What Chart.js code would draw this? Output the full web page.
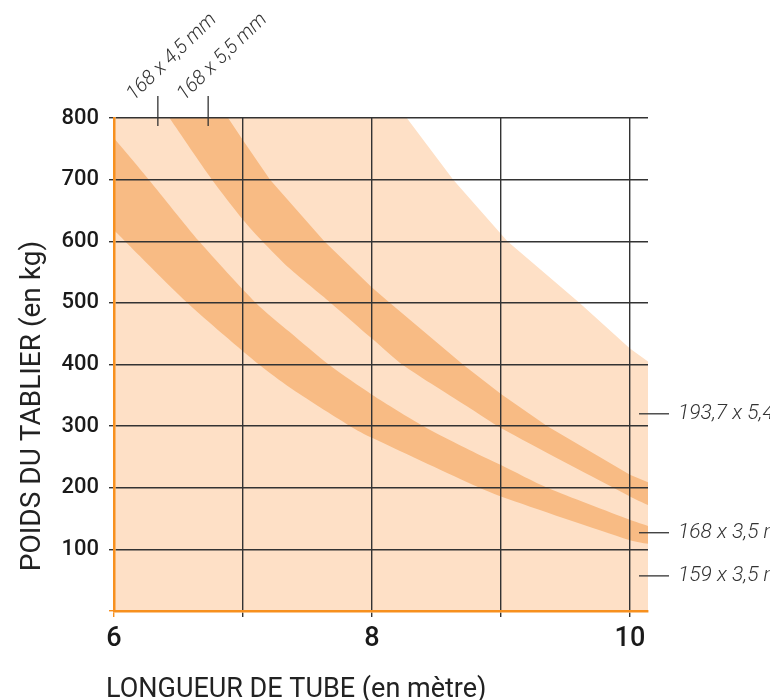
<!DOCTYPE html>
<html lang="fr">
<head>
    <meta charset="UTF-8">
    <title>Poids du tablier / longueur de tube</title>
    <script src="https://cdn.jsdelivr.net/npm/chart.js"></script>
    <style>
        body { margin: 0; background: #fff; }
        .chart-box { width: 770px; height: 700px; }
    </style>
</head>
<body>
    <div class="chart-box">
        <canvas id="tubeChart"></canvas>
    </div>

    <script>
        // limites des zones (x = longueur en m, y = poids en kg)
        const zoneTopX = [6.0, 8.27, 8.63, 9.05, 9.61, 10.0, 10.14];
        const zoneTopY = [800, 800, 700, 600, 500, 426, 405];

        const band2TopX = [6.43, 6.885, 7.0, 7.21, 7.63, 8.0, 8.14, 8.71, 9.0, 9.36, 10.0, 10.14];
        const band2TopY = [800, 800, 764, 700, 600, 525, 500, 399, 352, 300, 221, 209];
        const band2BotX = [6.43, 6.76, 7.0, 7.15, 7.36, 7.68, 8.0, 8.24, 8.76, 9.0, 10.0, 10.14];
        const band2BotY = [800, 700, 635, 600, 556, 500, 442, 399, 329, 297, 186, 172];

        const band1TopX = [6.0, 6.27, 6.66, 7.1, 7.36, 7.67, 8.0, 8.4, 8.76, 9.0, 9.36, 10.0, 10.14];
        const band1TopY = [767, 700, 600, 500, 453, 399, 351, 300, 261, 237, 200, 148, 138];
        const band1BotX = [6.0, 6.57, 7.13, 7.36, 7.83, 8.0, 8.76, 9.0, 10.0, 10.14];
        const band1BotY = [618, 500, 399, 363, 300, 281, 207, 186, 115, 109];

        const xTickLabels = [6, 8, 10];
        const sideLabels = ['193,7 x 5,4 mm', '168 x 3,5 mm', '159 x 3,5 mm'];
        const sideLabelAt = [320, 127, 57];
        const topLabels = ['168 x 4,5 mm', '168 x 5,5 mm'];
        const topLabelAt = [6.34, 6.73];

        const FONT = 'Roboto, "Liberation Sans", sans-serif';
        const ORANGE = '#f7901e';
        const LIGHT = '#fee0c6';
        const DARK = '#f8bb84';
        const GRID = '#333';

        const pts = (xs, ys) => xs.map((x, i) => ({ x: x, y: ys[i] }));

        const edge = (data, fill, color, order, tension) => ({
            data: data,
            fill: fill,
            backgroundColor: color,
            borderColor: 'rgba(0,0,0,0)',
            borderWidth: 1,
            pointRadius: 0,
            tension: tension,
            order: order
        });

        const labelsPlugin = {
            id: 'labels',
            afterDraw(chart) {
                const { ctx, chartArea: a, scales: { x, y } } = chart;
                ctx.save();
                ctx.fillStyle = '#222';

                ctx.font = '27px ' + FONT;
                ctx.textAlign = 'left';
                ctx.textBaseline = 'alphabetic';
                ctx.fillText('LONGUEUR DE TUBE (en mètre)', a.left - 8, 697);

                ctx.save();
                ctx.font = '28px ' + FONT;
                ctx.translate(40, 406);
                ctx.rotate(-Math.PI / 2);
                ctx.textAlign = 'center';
                ctx.fillText('POIDS DU TABLIER (en kg)', 0, 0);
                ctx.restore();

                ctx.strokeStyle = GRID;
                ctx.lineWidth = 1.3;
                ctx.fillStyle = '#333';
                ctx.font = 'italic 300 21px ' + FONT;

                sideLabels.forEach((t, i) => {
                    const py = y.getPixelForValue(sideLabelAt[i]);
                    ctx.beginPath();
                    ctx.moveTo(a.right - 9, py);
                    ctx.lineTo(a.right + 21, py);
                    ctx.stroke();
                    ctx.textBaseline = 'middle';
                    ctx.fillText(t, a.right + 30, py);
                });

                ctx.font = 'italic 300 20px ' + FONT;
                topLabels.forEach((t, i) => {
                    const px = x.getPixelForValue(topLabelAt[i]);
                    ctx.beginPath();
                    ctx.moveTo(px, a.top - 22);
                    ctx.lineTo(px, a.top + 8);
                    ctx.stroke();
                    ctx.save();
                    ctx.translate(px - 24, a.top - 17);
                    ctx.rotate(-44 * Math.PI / 180);
                    ctx.textBaseline = 'alphabetic';
                    ctx.fillText(t, 0, 0);
                    ctx.restore();
                });
                ctx.restore();
            }
        };

        new Chart(document.getElementById('tubeChart'), {
            type: 'line',
            data: {
                datasets: [
                    edge(pts(band1BotX, band1BotY), false, DARK, 1, 0.25),
                    edge(pts(band1TopX, band1TopY), 0, DARK, 1, 0.25),
                    edge(pts(band2BotX, band2BotY), false, DARK, 1, 0.25),
                    edge(pts(band2TopX, band2TopY), 2, DARK, 1, 0),
                    edge(pts(zoneTopX, zoneTopY), 'origin', LIGHT, 2, 0)
                ]
            },
            options: {
                responsive: true,
                maintainAspectRatio: false,
                animation: false,
                layout: { padding: { top: 118, right: 122, left: 0, bottom: 0 } },
                plugins: { legend: { display: false }, tooltip: { enabled: false } },
                scales: {
                    x: {
                        type: 'linear',
                        min: 6,
                        max: 10.14,
                        afterFit: (s) => { s.height = 89; },
                        border: { color: ORANGE, width: 2.5, z: 2 },
                        grid: {
                            z: 1,
                            color: GRID,
                            lineWidth: 1.4,
                            tickLength: 6,
                            tickColor: (c) => c.tick && c.tick.value === 6 ? ORANGE : GRID
                        },
                        ticks: {
                            stepSize: 1,
                            includeBounds: false,
                            maxRotation: 0,
                            padding: 6,
                            color: '#1a1a1a',
                            font: { family: FONT, size: 27, weight: 500 },
                            callback: (v) => xTickLabels.includes(v) ? String(v) : ''
                        }
                    },
                    y: {
                        min: 0,
                        max: 800,
                        afterFit: (s) => { s.width = 114; },
                        border: { color: ORANGE, width: 2.5, z: 2 },
                        grid: {
                            z: 1,
                            color: GRID,
                            lineWidth: 1.4,
                            tickLength: 5,
                            tickColor: (c) => c.tick && c.tick.value === 0 ? ORANGE : GRID
                        },
                        ticks: {
                            stepSize: 100,
                            padding: 10,
                            color: '#1a1a1a',
                            font: { family: FONT, size: 22, weight: 500 },
                            callback: (v) => v === 0 ? '' : String(v)
                        }
                    }
                }
            },
            plugins: [labelsPlugin]
        });
    </script>
</body>
</html>
